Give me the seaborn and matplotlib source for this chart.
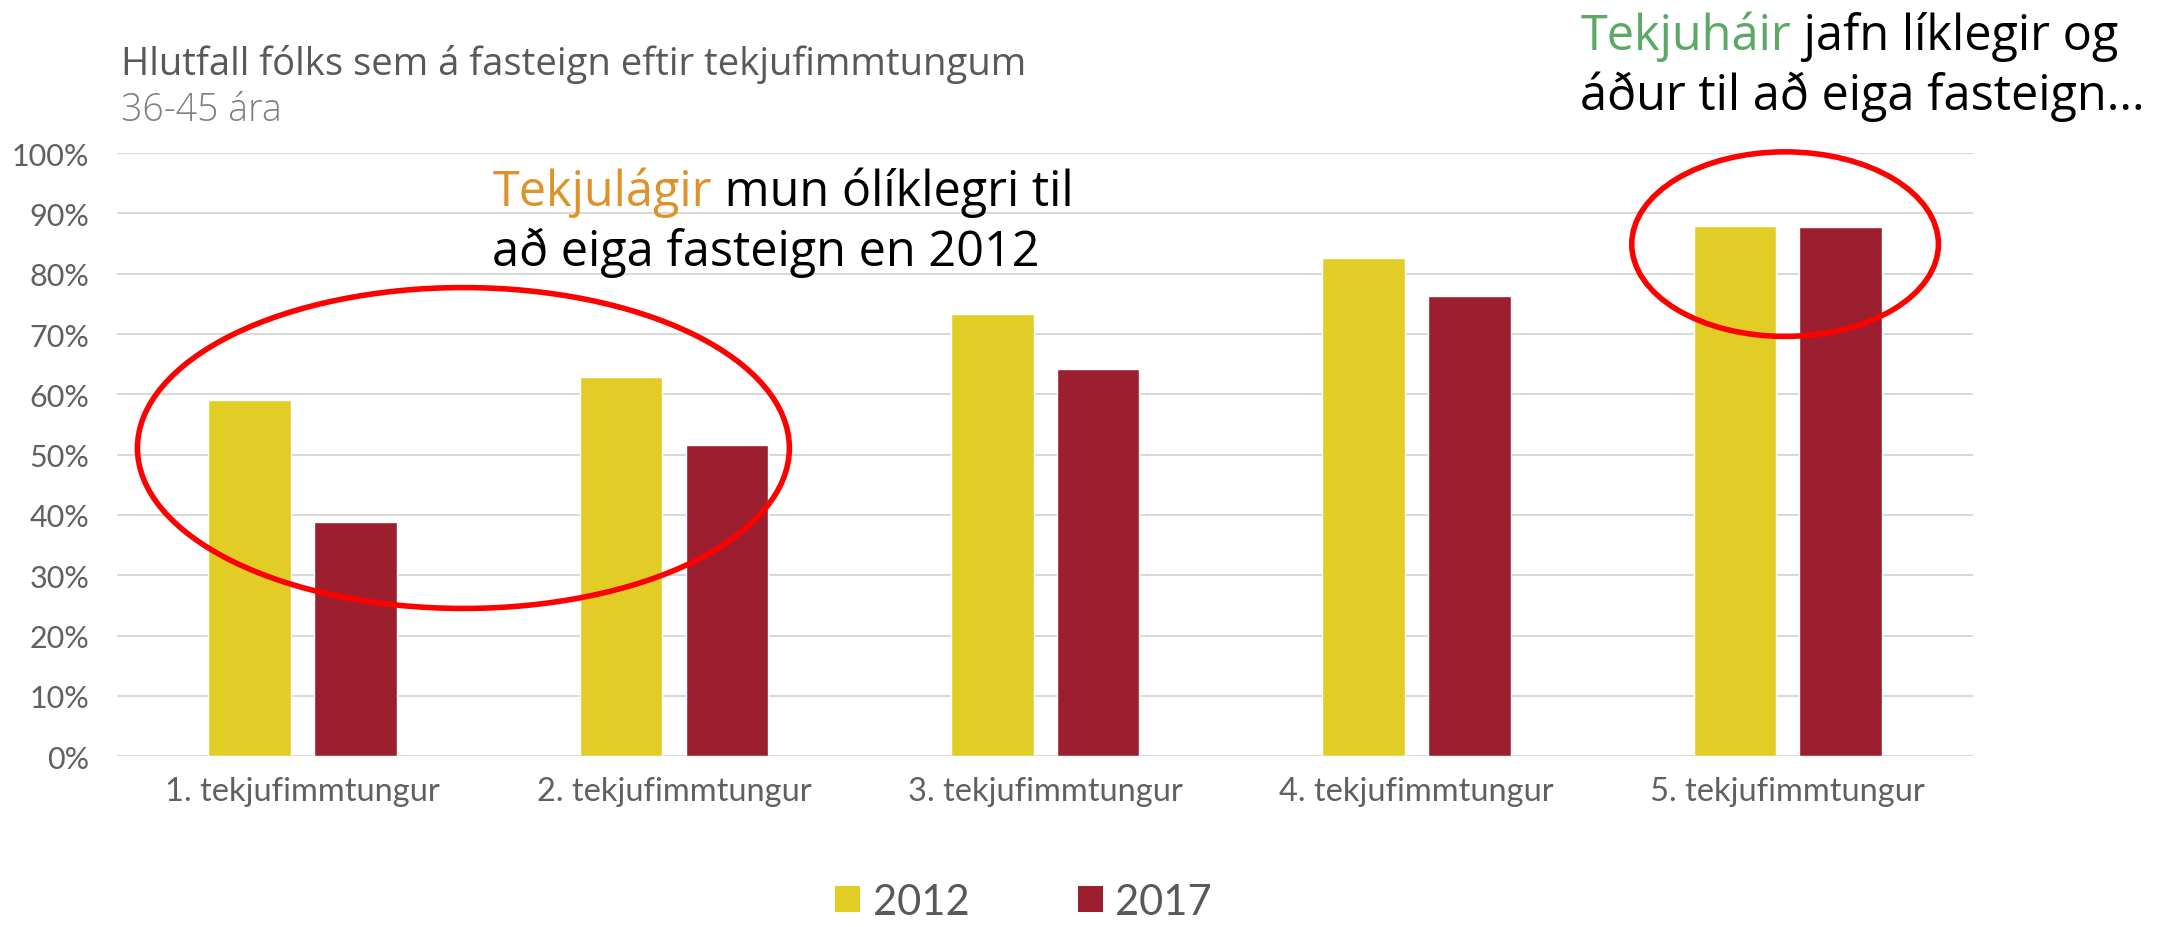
import matplotlib
matplotlib.use("Agg")
import matplotlib.pyplot as plt
import seaborn as sns
import pandas as pd
from matplotlib.patches import Ellipse, Patch
from matplotlib.ticker import PercentFormatter

categories = ["1. tekjufimmtungur", "2. tekjufimmtungur", "3. tekjufimmtungur",
              "4. tekjufimmtungur", "5. tekjufimmtungur"]
years = ["2012", "2017"]
values_2012 = [0.591, 0.628, 0.733, 0.826, 0.879]
values_2017 = [0.388, 0.516, 0.642, 0.763, 0.877]
colors = {"2012": "#E2CD27", "2017": "#9B1F2E"}

title = "Hlutfall fólks sem á fasteign eftir tekjufimmtungum"
subtitle = "36-45 ára"

df = pd.DataFrame({
    "cat": categories * 2,
    "year": ["2012"] * len(categories) + ["2017"] * len(categories),
    "val": values_2012 + values_2017,
})

sns.set_theme(style="white")
plt.rcParams["font.family"] = ["Lato", "DejaVu Sans"]
FAM = ["Open Sans", "DejaVu Sans"]

fig = plt.figure(figsize=(21.59, 9.28), dpi=100)
ax = fig.add_axes([0.0542, 0.184, 0.8598, 0.650])

sns.barplot(data=df, x="cat", y="val", hue="year", order=categories, hue_order=years,
            palette=colors, width=0.57, gap=0.22, legend=False, ax=ax, saturation=1)

ax.set_xlim(-0.5, 4.5)
ax.set_ylim(0, 1.0)
ax.set_yticks([i / 10 for i in range(11)])
ax.yaxis.set_major_formatter(PercentFormatter(1.0, decimals=0))
ax.grid(axis="y", color="#d9d9d9", lw=1.5)
ax.set_axisbelow(True)
for s in ax.spines.values():
    s.set_visible(False)
ax.set_xlabel("")
ax.set_ylabel("")
ax.tick_params(axis="y", length=0, pad=20, labelsize=22, labelcolor="#606060")
ax.tick_params(axis="x", length=0, pad=14, labelsize=23.5, labelcolor="#606060")

# Ellipses
ax.add_patch(Ellipse((0.433, 0.511), 1.756, 0.532, fill=False, ec="#FF0000", lw=4, clip_on=False))
ax.add_patch(Ellipse((3.993, 0.849), 0.826, 0.306, fill=False, ec="#FF0000", lw=4, clip_on=False))

# Title
fig.text(0.056, 0.930, title, fontsize=27.5, color="#595959", va="center", ha="left", family=FAM)
fig.text(0.056, 0.881, subtitle, fontsize=27, color="#808080", va="center", ha="left",
         family=FAM, fontweight="light")

# Two-colour annotations
def rich(x, y, first, first_col, rest, size=35):
    t1 = fig.text(x, y, first, fontsize=size, color=first_col, va="center", ha="left", family=FAM)
    ax.annotate(" " + rest, xy=(1, 0), xycoords=t1, va="bottom", ha="left",
                fontsize=size, color="black", family=FAM, annotation_clip=False)

rich(0.228, 0.792, "Tekjulágir", "#E0922A", "mun ólíklegri til")
fig.text(0.228, 0.728, "að eiga fasteign en 2012", fontsize=35, color="black", va="center",
         ha="left", family=FAM)
rich(0.732, 0.960, "Tekjuháir", "#5BA965", "jafn líklegir og")
fig.text(0.732, 0.896, "áður til að eiga fasteign...", fontsize=35, color="black", va="center",
         ha="left", family=FAM)

# Legend
handles = [Patch(facecolor=colors[y], edgecolor="none", label=y) for y in years]
leg = fig.legend(handles=handles, loc="center", bbox_to_anchor=(0.474, 0.027), ncol=2,
                 frameon=False, fontsize=30, handlelength=0.6, handleheight=0.6,
                 handletextpad=0.3, columnspacing=2.6, labelcolor="#595959")

fig.savefig("out.png", dpi=100)
